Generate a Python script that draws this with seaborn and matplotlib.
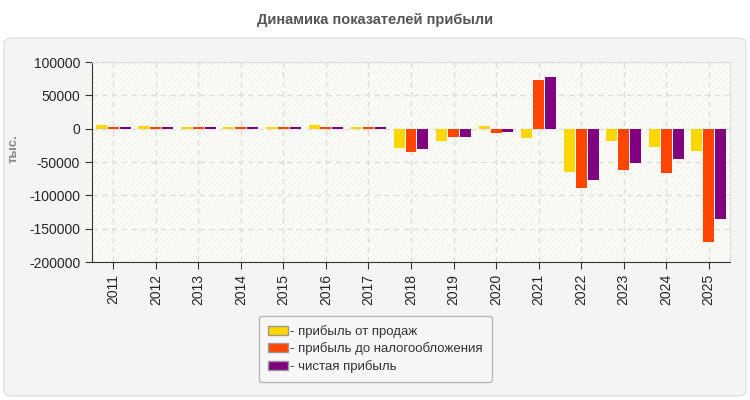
import seaborn as sns
import matplotlib.pyplot as plt
import pandas as pd
from matplotlib.patches import FancyBboxPatch, Rectangle, Patch

# Данные
years = ["2011", "2012", "2013", "2014", "2015", "2016", "2017", "2018",
         "2019", "2020", "2021", "2022", "2023", "2024", "2025"]
series = ["прибыль от продаж", "прибыль до налогообложения", "чистая прибыль"]
sales_profit = [6000, 4500, 3000, 3000, 3000, 6000, 3000, -29000,
                -18500, 4000, -13500, -65000, -18500, -27500, -33500]
pretax_profit = [3000, 3000, 3000, 3000, 3000, 3000, 3000, -35000,
                 -12000, -6500, 73000, -89000, -62000, -66500, -170000]
net_profit = [3000, 3000, 3000, 3000, 3000, 3000, 3000, -30500,
              -12000, -4500, 77500, -77000, -51500, -45500, -135500]
colors = ["#FFD700", "#FF4500", "#800080"]

df = pd.DataFrame({
    "year": years * 3,
    "series": [series[0]] * 15 + [series[1]] * 15 + [series[2]] * 15,
    "value": sales_profit + pretax_profit + net_profit,
})

sns.set_style("white")
plt.rcParams["font.family"] = ["Liberation Sans", "DejaVu Sans"]

fig = plt.figure(figsize=(7.5, 4), dpi=100, facecolor="white")

# Панель с закруглёнными углами (под осями)
fig.patches.append(FancyBboxPatch((4 / 750, 4 / 400), 742 / 750, 358 / 400,
                                  boxstyle="round,pad=0,rounding_size=0.012",
                                  transform=fig.transFigure, facecolor="#f4f4f4",
                                  edgecolor="#e2e2e2", linewidth=1, zorder=-10))

ax = fig.add_axes([92 / 750, 1 - 262 / 400, 638 / 750, 200 / 400])
ax.set_facecolor("#fdfdf8")
ax.add_patch(Rectangle((0, 0), 1, 1, transform=ax.transAxes, fill=False,
                       hatch="//////", edgecolor="#f3f3ef", linewidth=0, zorder=0))

sns.barplot(data=df, x="year", y="value", hue="series", palette=colors,
            width=0.84, gap=0.08, ax=ax, legend=False, saturation=1,
            linewidth=0, zorder=3)

ax.set_ylim(-200000, 100000)
ax.set_xlim(-0.5, 14.5)
ax.set_yticks(range(-200000, 100001, 50000))
ax.set_yticklabels([str(v) for v in range(-200000, 100001, 50000)])
ax.grid(True, color="#dddddd", linestyle=(0, (4, 3)), linewidth=1)
ax.set_axisbelow(True)
ax.tick_params(axis="x", labelrotation=90, labelsize=10, length=5, color="#333333", bottom=True)
ax.tick_params(axis="y", labelsize=10, length=5, color="#333333", left=True)
ax.set_xlabel("")
ax.set_ylabel("тыс.", fontsize=9.5, fontweight="bold", color="#888888")
ax.yaxis.set_label_coords(-0.114, 0.565)
for s in ["left", "bottom"]:
    ax.spines[s].set_color("#333333")
for s in ["top", "right"]:
    ax.spines[s].set_color("#dddddd")

fig.suptitle("Динамика показателей прибыли", y=1 - 20 / 400, va="center",
             fontsize=10.5, fontweight="bold", color="#555555")

handles = [Patch(facecolor=c, edgecolor="#999999", linewidth=1) for c in colors]
leg = fig.legend(handles, ["- " + s for s in series], loc="upper left",
                 bbox_to_anchor=(252 / 750, 1 - 309 / 400), fontsize=9.5,
                 frameon=True, fancybox=True, handlelength=1.5, handleheight=0.7,
                 handletextpad=0.2, labelspacing=0.35, borderpad=0.7,
                 labelcolor="#333333")
leg.get_frame().set_facecolor("#f8f8f8")
leg.get_frame().set_edgecolor("#aaaaaa")

fig.savefig("out.png", dpi=100)
